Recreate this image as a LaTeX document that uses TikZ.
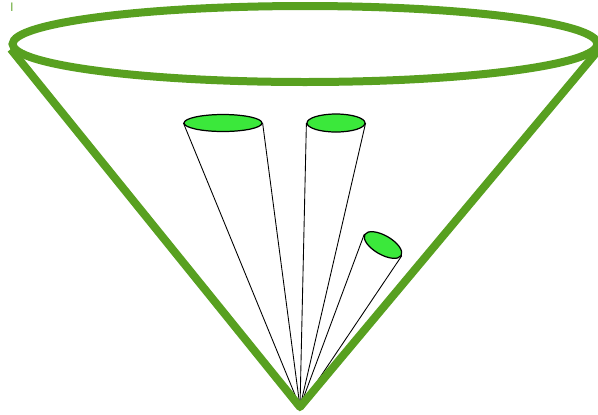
\documentclass[tikz,border=0pt]{standalone}
\usepackage{tikz}
\usetikzlibrary{shapes.geometric}
\definecolor{verde}{HTML}{58A020}
\definecolor{lima}{HTML}{3BE83B}

\begin{document}
\begin{tikzpicture}[x=0.02cm, y=-0.02cm,
      borde/.style={draw=verde, line width=0.16cm},
      tapa/.style={ellipse, draw=black, fill=lima, line width=0.7pt, inner sep=0pt},
      rayo/.style={draw=black, line width=0.5pt}]

    \useasboundingbox (0,0) rectangle (598,414);

    \node[ellipse, borde, minimum width=11.7cm, minimum height=1.52cm, inner sep=0pt] (rim) at (305,44) {};
    \coordinate (apex) at (300,407);

    \node[tapa, minimum width=1.56cm, minimum height=0.34cm] (t1) at (223,123) {};
    \node[tapa, minimum width=1.16cm, minimum height=0.36cm] (t2) at (336,123) {};
    \node[tapa, minimum width=0.84cm, minimum height=0.38cm, rotate=-30] (t3) at (383,245) {};

    \node[text=verde, font=\sffamily\fontsize{7}{7}\selectfont, inner sep=0pt] (marca) at (12,7) {l};

    \draw[rayo] (t1.west) -- (apex) -- (t1.east);
    \draw[rayo] (t2.west) -- (apex) -- (t2.east);
    \draw[rayo] (t3.west) -- (apex) -- (t3.east);

    \draw[borde, line join=round] (rim.181) -- (apex) -- (rim.-1);
\end{tikzpicture}
\end{document}
